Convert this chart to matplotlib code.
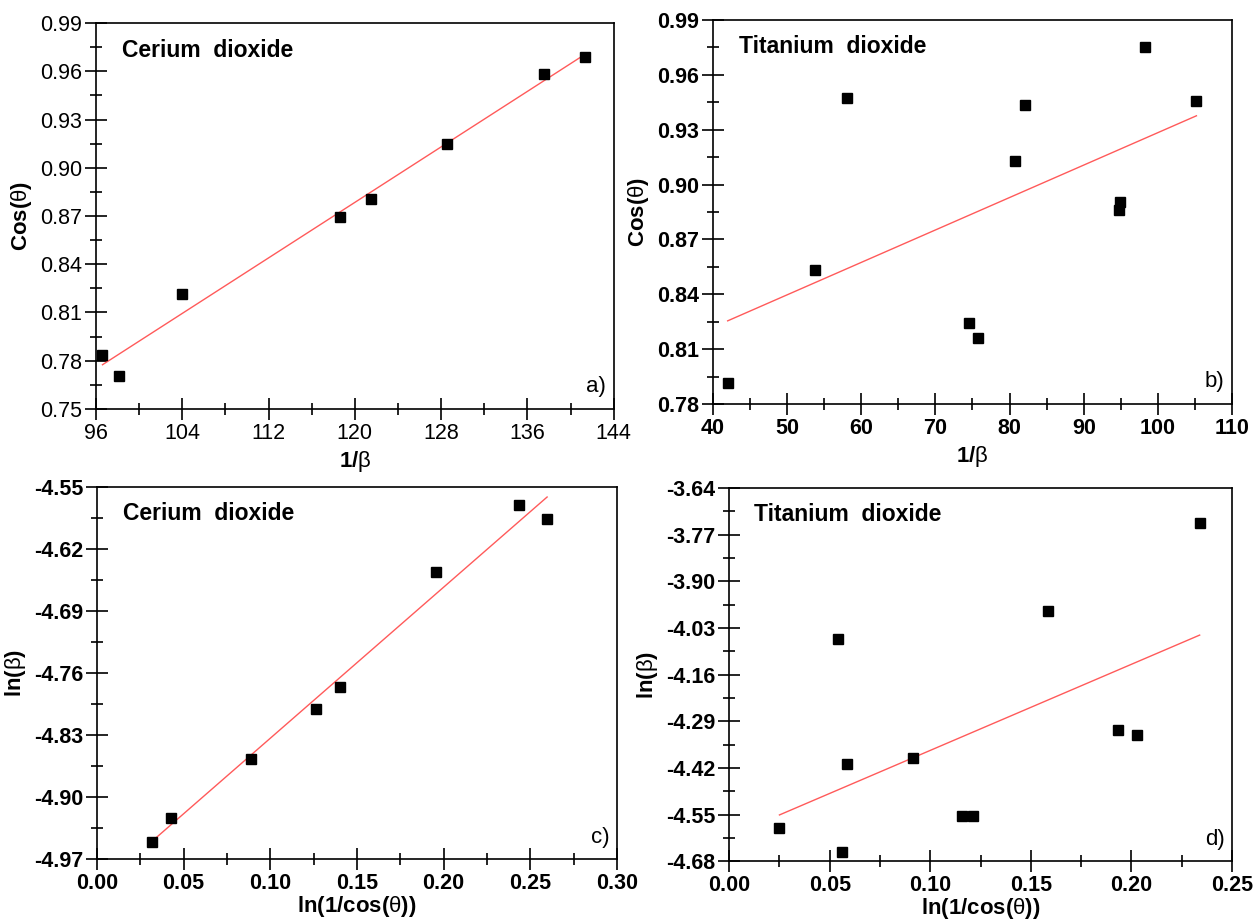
import numpy as np
import matplotlib.pyplot as plt
from matplotlib.ticker import AutoMinorLocator

plt.rcParams['font.family'] = ['Liberation Sans', 'DejaVu Sans']
plt.rcParams['mathtext.fontset'] = 'custom'
plt.rcParams['mathtext.rm'] = 'Liberation Sans'
plt.rcParams['mathtext.bf'] = 'Liberation Sans:bold'

# a) Cerium dioxide, Cos(theta) vs 1/beta
ce_inv_beta = [96.6, 98.1, 104.0, 118.6, 121.5, 128.5, 137.5, 141.3]
ce_cos = [0.7836, 0.7705, 0.8215, 0.8694, 0.8808, 0.9148, 0.9583, 0.9690]

# b) Titanium dioxide, Cos(theta) vs 1/beta
ti_inv_beta = [42.0, 53.8, 58.1, 74.5, 75.8, 80.8, 82.1, 94.9, 94.8, 98.2, 105.2]
ti_cos = [0.7913, 0.8534, 0.9473, 0.8243, 0.8163, 0.9129, 0.9433, 0.8906, 0.8861, 0.9754, 0.9457]

# c) Cerium dioxide, ln(beta) vs ln(1/cos(theta))
ce_lncos = [0.0315, 0.0425, 0.0886, 0.1265, 0.1402, 0.1956, 0.2435, 0.2597]
ce_lnbeta = [-4.9504, -4.9233, -4.8563, -4.8007, -4.7760, -4.6455, -4.5700, -4.5860]

# d) Titanium dioxide, ln(beta) vs ln(1/cos(theta))
ti_lncos = [0.0250, 0.0539, 0.0560, 0.0586, 0.0912, 0.1160, 0.1214, 0.1584, 0.1932, 0.2027, 0.2339]
ti_lnbeta = [-4.5879, -4.0616, -4.6553, -4.4089, -4.3923, -4.5546, -4.5546, -3.9836, -4.3131, -4.3288, -3.7375]

xlab_b = r'$\mathbf{1/}\mathrm{\beta}$'
ylab_cos = r'$\mathbf{Cos(}\mathrm{\theta}\mathbf{)}$'
xlab_ln = r'$\mathbf{ln(1/cos(}\mathrm{\theta}\mathbf{))}$'
ylab_ln = r'$\mathbf{ln(}\mathrm{\beta}\mathbf{)}$'

panels = [
    (ce_inv_beta, ce_cos, [0.0765, 0.5574, 0.4125, 0.4176], (96, 144), 8, (0.75, 0.99), 0.03,
     '{:.0f}', '{:.2f}', 'Cerium  dioxide', 'a)', False, xlab_b, ylab_cos, 4),
    (ti_inv_beta, ti_cos, [0.568, 0.5628, 0.4137, 0.4156], (40, 110), 10, (0.78, 0.99), 0.03,
     '{:.0f}', '{:.2f}', 'Titanium  dioxide', 'b)', True, xlab_b, ylab_cos, 4),
    (ce_lncos, ce_lnbeta, [0.0773, 0.0700, 0.4143, 0.4030], (0.0, 0.30), 0.05, (-4.97, -4.55), 0.07,
     '{:.2f}', '{:.2f}', 'Cerium  dioxide', 'c)', True, xlab_ln, ylab_ln, 0),
    (ti_lncos, ti_lnbeta, [0.581, 0.0680, 0.4007, 0.4038], (0.0, 0.25), 0.05, (-4.68, -3.64), 0.13,
     '{:.2f}', '{:.2f}', 'Titanium  dioxide', 'd)', True, xlab_ln, ylab_ln, 0),
]

fig = plt.figure(figsize=(12.55, 9.24), dpi=100)

for (x, y, rect, xlim, xstep, ylim, ystep, xfmt, yfmt, title, tag, bold,
     xlab, ylab, lpad) in panels:
    ax = fig.add_axes(rect)
    x = np.array(x)
    y = np.array(y)
    # linear fit drawn over the data range
    k, b = np.polyfit(x, y, 1)
    xs = np.array([x.min(), x.max()])
    ax.plot(xs, k * xs + b, color='#ff5a5a', lw=1.0, zorder=2)
    ax.plot(x, y, 's', color='black', ms=7.5, zorder=3, clip_on=False)

    ax.set_xlim(*xlim)
    ax.set_ylim(*ylim)
    xt = np.arange(xlim[0], xlim[1] + xstep / 2, xstep)
    yt = np.arange(ylim[0], ylim[1] + ystep / 2, ystep)
    ax.set_xticks(xt)
    ax.set_yticks(yt)
    w = 'bold' if bold else 'normal'
    ax.set_xticklabels([xfmt.format(v) for v in xt], fontsize=15.5, fontweight=w)
    ax.set_yticklabels([yfmt.format(v) for v in yt], fontsize=15.5, fontweight=w)
    ax.xaxis.set_minor_locator(AutoMinorLocator(2))
    ax.yaxis.set_minor_locator(AutoMinorLocator(2))
    ax.tick_params(which='major', direction='inout', length=16, width=1.2, pad=2)
    ax.tick_params(which='minor', direction='inout', length=8, width=1.2)
    ax.tick_params(top=False, right=False)
    for s in ax.spines.values():
        s.set_linewidth(1.2)
    ax.set_xlabel(xlab, fontsize=16, labelpad=lpad)
    ax.set_ylabel(ylab, fontsize=16, labelpad=4)
    ax.text(0.05, 0.93, title, transform=ax.transAxes, fontsize=16.5,
            fontweight='bold', va='center', ha='left')
    ax.text(0.985, 0.03, tag, transform=ax.transAxes, fontsize=16,
            va='bottom', ha='right')

fig.savefig('out.png', dpi=100)
